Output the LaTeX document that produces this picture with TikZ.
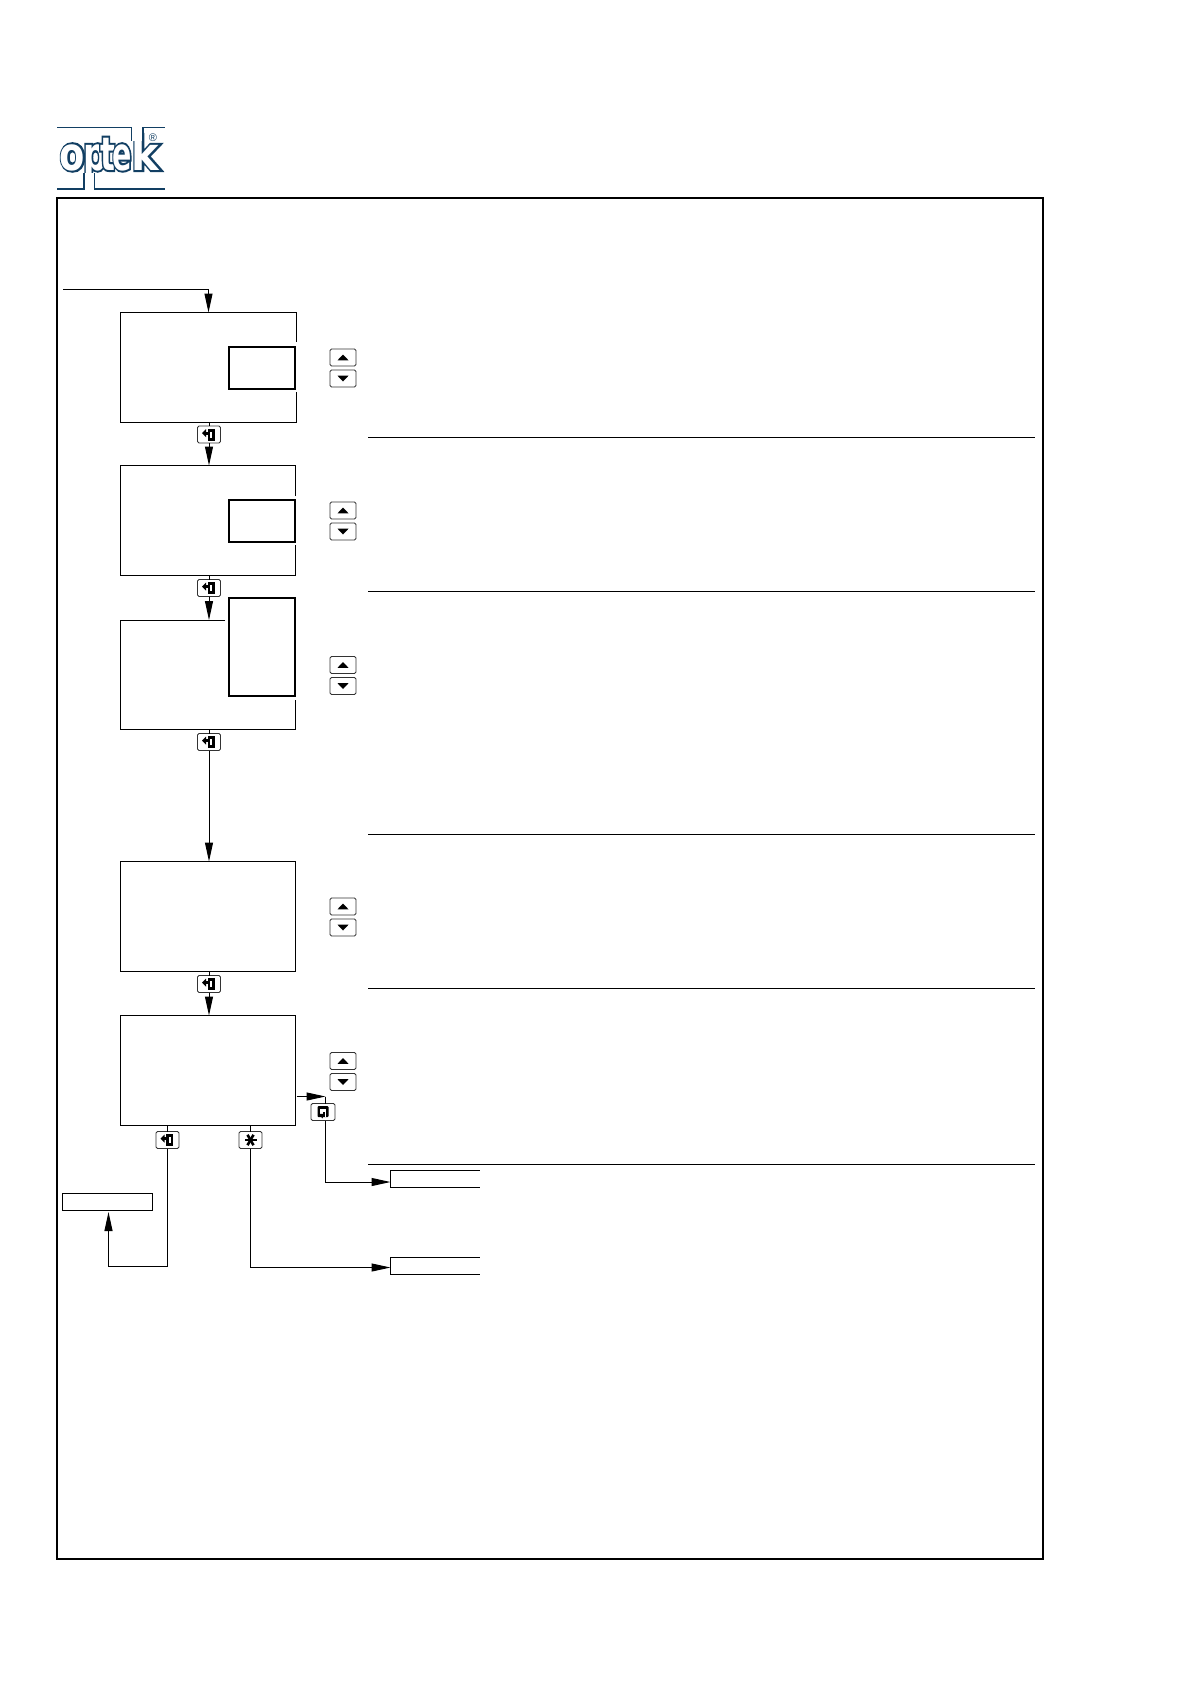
\documentclass[tikz,border=0pt]{standalone}
\usepackage{fontspec}
\usetikzlibrary{arrows.meta}
\newfontfamily\logodark[FakeBold=9]{DejaVu Sans Bold}
\newfontfamily\logolight{DejaVu Sans Bold}
\setmainfont{Liberation Sans}
\definecolor{logoblue}{HTML}{123F63}
\tikzset{
  screen/.style={draw, line width=1pt, minimum width=175pt, minimum height=110pt, inner sep=0pt, outer sep=0pt},
  openscreen/.style={minimum width=175pt, minimum height=110pt, inner sep=0pt, outer sep=0pt},
  thickbox/.style={draw, line width=2pt, inner sep=0pt, outer sep=0pt, minimum width=66pt},
  keybtn/.style={draw=black!80, fill=white, line width=0.9pt, rounded corners=1.5pt, inner sep=0pt, outer sep=0pt, minimum height=17pt},
  menubox/.style={inner sep=0pt, outer sep=0pt, minimum width=89pt, minimum height=17pt},
  uptri/.pic={\fill (-5.5,2.8) -- (5.5,2.8) -- (0,-3) -- cycle;},
  downtri/.pic={\fill (-5.5,-2.8) -- (5.5,-2.8) -- (0,3) -- cycle;},
  enterglyph/.pic={
    \fill (-1.5,-6) rectangle (5.5,6);
    \fill[white] (1,-3) rectangle (3,3);
    \fill (-7,-1.5) -- (-3,-5.5) -- (-3,2.5) -- cycle;
    \fill (-3.5,-3) rectangle (1,0);
  },
  loopglyph/.pic={
    \fill[rounded corners=1pt] (-5.5,-6) rectangle (5.5,5);
    \fill[white] (-3,-3) rectangle (3,1.5);
    \fill[white] (1.6,1.5) rectangle (3,5);
    \fill (-3.5,1.8) -- (1.8,1.8) -- (-0.8,6.5) -- cycle;
    \fill (-0.5,-0.5) rectangle (1.5,2);
  }
}
\begin{document}
\begin{tikzpicture}[x=1pt, y=-1pt, >={Stealth[length=19pt,width=8pt,inset=0pt]}, line width=1pt]
  \useasboundingbox (0,0) rectangle (1190,1684);

  % Logo
  \foreach \name/\glyph/\gx/\gs in {o/o/72.5/0.8, p/p/95/0.72, t/t/107.5/0.68, e/e/122/0.62, k/k/145.5/0.9}{
    \node[logoblue, font=\fontsize{46}{46}\logodark, inner sep=0pt, anchor=base, xscale=\gs, transform shape] (dark\name) at (\gx,170) {\glyph};
    \node[white, font=\fontsize{46}{46}\logolight, inner sep=0pt, anchor=base, xscale=\gs, transform shape] (light\name) at (\gx,170) {\glyph};
  }
  \fill[white] (85,173) rectangle (93.5,188);
  \fill[white] (132.5,128) rectangle (142,141);
  \begin{scope}[logoblue, line width=1.8pt]
    \draw (57,127.5) -- (131.5,127.5) -- (131.5,141);
    \draw (143,141) -- (143,127.5) -- (165,127.5);
    \draw (57,189) -- (84,189) -- (84,173);
    \draw (94.5,173) -- (94.5,189) -- (165,189);
  \end{scope}
  \node[logoblue, font=\fontsize{11}{11}\selectfont, inner sep=0pt] (regmark) at (153,138) {®};

  % Outer frame
  \draw[line width=2.3pt] (57,198) rectangle (1043,1559);

  % Section rules
  \foreach \y in {437.5,591.5,834.5,988.5,1164.5}{
    \draw (368,\y) -- (1035,\y);
  }

  % Screens
  \node[openscreen, minimum width=176pt] (scra) at (208.5,367.5) {};
  \node[openscreen] (scrb) at (208,520.5) {};
  \node[openscreen, minimum height=109pt] (scrc) at (208,674.5) {};
  \node[screen] (scrd) at (208,916.5) {};
  \node[screen] (scre) at (208,1070.5) {};
  \draw (scra.east |- 0,342) -- (scra.north east) -- (scra.north west) -- (scra.south west) -- (scra.south east) -- (scra.east |- 0,392);
  \draw (scrb.east |- 0,496) -- (scrb.north east) -- (scrb.north west) -- (scrb.south west) -- (scrb.south east) -- (scrb.east |- 0,545);
  \draw (225,620) -- (scrc.north west) -- (scrc.south west) -- (scrc.south east) -- (scrc.east |- 0,700);

  % Highlighted fields
  \node[thickbox, minimum height=42pt] (fielda) at (262,368) {};
  \node[thickbox, minimum height=42pt] (fieldb) at (262,521) {};
  \node[thickbox, minimum height=98pt] (fieldc) at (262,647) {};

  % Up and down keys
  \foreach \y [count=\i] in {357.5,510.5,665,906.5,1061}{
    \node[keybtn, minimum width=26pt] (up\i) at (343,\y) {};
    \node[keybtn, minimum width=26pt] (down\i) at (343,\y+21) {};
    \pic at (up\i) {uptri};
    \pic at (down\i) {downtri};
  }

  % Enter keys
  \foreach \name/\x/\y in {enta/209/434.5, entb/209/588, entc/209/742, entd/209/984, ente/167.5/1140}{
    \node[keybtn, minimum width=23pt] (\name) at (\x,\y) {};
    \pic at (\name) {enterglyph};
  }
  \node[keybtn, minimum width=23pt] (starkey) at (250.5,1140) {};
  \foreach \a in {0,60,120}{
    \draw[line width=2.6pt] ([shift={(\a:6)}]starkey.center) -- ([shift={(\a+180:6)}]starkey.center);
  }
  \node[keybtn, minimum width=24pt] (loopkey) at (323,1112) {};
  \pic at (loopkey) {loopglyph};

  % Menu boxes
  \node[draw, inner sep=0pt, outer sep=0pt, minimum width=90pt, minimum height=17pt] (parbox) at (107.5,1201.5) {};
  \node[menubox] (menua) at (435,1179) {};
  \node[menubox] (menub) at (435,1266) {};
  \draw (menua.north east) -- (menua.north west) -- (menua.south west) -- (menua.south east);
  \draw (menub.north east) -- (menub.north west) -- (menub.south west) -- (menub.south east);

  % Connectors
  \coordinate (start) at (63,289.5);
  \coordinate (bend) at (325.5,1096.5);
  \draw[->] (start) -| (scra.north);
  \draw (enta.north |- scra.south) -- (enta.north);
  \draw[->] (enta.south) -- (enta.south |- scrb.north);
  \draw (entb.north |- scrb.south) -- (entb.north);
  \draw[->] (entb.south) -- (entb.south |- scrc.north);
  \draw (entc.north |- scrc.south) -- (entc.north);
  \draw[->] (entc.south) -- (entc.south |- scrd.north);
  \draw (entd.north |- scrd.south) -- (entd.north);
  \draw[->] (entd.south) -- (entd.south |- scre.north);
  \draw (ente.north |- scre.south) -- (ente.north);
  \draw (starkey.north |- scre.south) -- (starkey.north);
  \draw[->, shorten >=2pt] (ente.south) -- (ente.south |- 0,1266.5) -| ([xshift=1pt]parbox.south);
  \draw[->] (starkey.south) |- (menub.west |- 0,1267.5);
  \draw[->, shorten <=1pt] (scre.east |- bend) -- (bend);
  \draw (bend) -- (bend |- loopkey.north);
  \draw[->] (bend |- loopkey.south) |- (menua.west |- 0,1182);
\end{tikzpicture}
\end{document}
